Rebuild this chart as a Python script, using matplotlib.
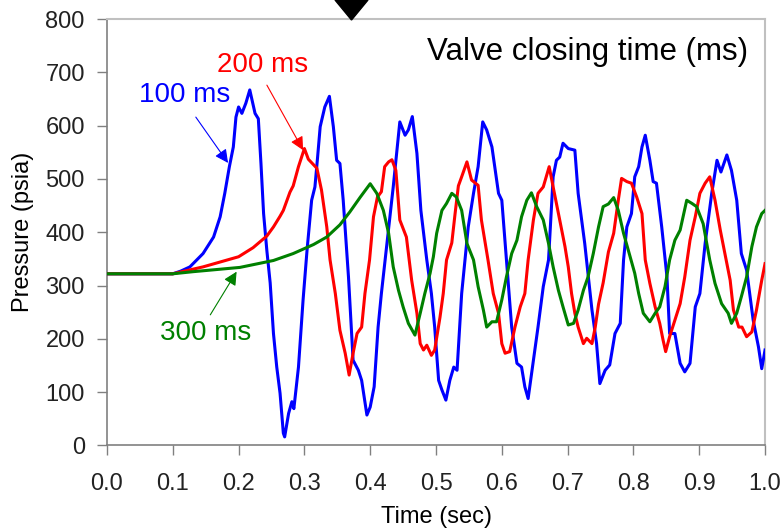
import numpy as np
import matplotlib
matplotlib.use("Agg")
import matplotlib.pyplot as plt
from matplotlib.patches import Polygon

plt.rcParams['font.family'] = ['Liberation Sans', 'DejaVu Sans']

# (time sec, pressure psia)
blue_pts = [(0.0, 322), (0.1, 322), (0.112, 327), (0.126, 335), (0.146, 360), (0.162, 391),
            (0.172, 429), (0.179, 473), (0.186, 523), (0.192, 560), (0.196, 616), (0.200, 635),
            (0.205, 623), (0.211, 642), (0.217, 667), (0.225, 623), (0.230, 613), (0.234, 529),
            (0.238, 435), (0.243, 365), (0.248, 305), (0.253, 210), (0.258, 147), (0.263, 98),
            (0.268, 23), (0.270, 16), (0.276, 60), (0.281, 82), (0.284, 69), (0.291, 147),
            (0.298, 273), (0.304, 366), (0.311, 460), (0.316, 485), (0.320, 540), (0.324, 598),
            (0.331, 635), (0.338, 655), (0.344, 598), (0.349, 535),
            (0.354, 529), (0.359, 460), (0.367, 316), (0.374, 160), (0.382, 141), (0.387, 122),
            (0.395, 57), (0.400, 72), (0.406, 110), (0.412, 222), (0.417, 285), (0.426, 385),
            (0.435, 485), (0.445, 607), (0.453, 582), (0.458, 592), (0.464, 617), (0.471, 548),
            (0.477, 441), (0.486, 348), (0.493, 285), (0.498, 222), (0.504, 122), (0.509, 104),
            (0.515, 85), (0.521, 122), (0.527, 147), (0.532, 141), (0.539, 285), (0.549, 410),
            (0.557, 473), (0.564, 523), (0.571, 607), (0.577, 592), (0.585, 560), (0.595, 473),
            (0.600, 460), (0.607, 348), (0.615, 222), (0.623, 154), (0.630, 147), (0.635, 110),
            (0.640, 88), (0.648, 160), (0.655, 222), (0.663, 298), (0.671, 348), (0.678, 504),
            (0.683, 535), (0.688, 541), (0.693, 567), (0.701, 557), (0.711, 554), (0.716, 473),
            (0.726, 379), (0.737, 254), (0.744, 191), (0.749, 116), (0.757, 141), (0.764, 151),
            (0.772, 210), (0.780, 229), (0.785, 348), (0.790, 410), (0.797, 435), (0.802, 504),
            (0.808, 523), (0.813, 560), (0.818, 582), (0.825, 535), (0.830, 495), (0.835, 492),
            (0.843, 410), (0.851, 316), (0.855, 210), (0.863, 210), (0.871, 154), (0.878, 138),
            (0.886, 154), (0.894, 260), (0.901, 285), (0.909, 379), (0.919, 473), (0.927, 535),
            (0.933, 513), (0.942, 545), (0.949, 516), (0.957, 460), (0.964, 360), (0.972, 329),
            (0.982, 235), (0.990, 185), (0.995, 144), (1.0, 179)]

red_pts = [(0.0, 322), (0.1, 322), (0.146, 335), (0.200, 354), (0.222, 371), (0.243, 393),
           (0.253, 410), (0.263, 430), (0.268, 441), (0.278, 475), (0.283, 487), (0.291, 523),
           (0.300, 557), (0.306, 537), (0.319, 520), (0.326, 479), (0.334, 410), (0.339, 348),
           (0.347, 285), (0.354, 216), (0.362, 173), (0.368, 132), (0.374, 173), (0.380, 210),
           (0.387, 222), (0.392, 285), (0.399, 348), (0.405, 429), (0.411, 466), (0.417, 476),
           (0.422, 523), (0.428, 532), (0.433, 536), (0.439, 516), (0.445, 423), (0.455, 391),
           (0.463, 310), (0.471, 248), (0.476, 191), (0.481, 179), (0.486, 188), (0.493, 169),
           (0.498, 179), (0.506, 240), (0.511, 285), (0.516, 348), (0.524, 380), (0.529, 435),
           (0.534, 487), (0.539, 504), (0.547, 532), (0.554, 498), (0.564, 488), (0.569, 423),
           (0.579, 348), (0.587, 285), (0.595, 248), (0.600, 191), (0.605, 173), (0.612, 176),
           (0.620, 222), (0.628, 260), (0.635, 285), (0.640, 348), (0.648, 423), (0.655, 473),
           (0.663, 485), (0.672, 523), (0.678, 485), (0.688, 423), (0.696, 373), (0.701, 335),
           (0.706, 285), (0.711, 248), (0.716, 222), (0.724, 191), (0.729, 201), (0.737, 191),
           (0.742, 222), (0.747, 265), (0.754, 305), (0.762, 363), (0.770, 398), (0.777, 460),
           (0.782, 501), (0.790, 495), (0.797, 492), (0.805, 466), (0.813, 435), (0.818, 348),
           (0.825, 304), (0.833, 260), (0.840, 229), (0.845, 198), (0.849, 176), (0.855, 204),
           (0.863, 235), (0.871, 266), (0.878, 316), (0.886, 385), (0.894, 429), (0.901, 473),
           (0.909, 492), (0.916, 504), (0.924, 460), (0.932, 404), (0.939, 360), (0.947, 310),
           (0.952, 254), (0.960, 222), (0.965, 222), (0.972, 204), (0.980, 213), (0.987, 254),
           (0.995, 310), (1.0, 341)]

green_pts = [(0.0, 322), (0.1, 322), (0.131, 326), (0.202, 334), (0.253, 347), (0.283, 360),
             (0.314, 377), (0.334, 391), (0.354, 414), (0.369, 438),
             (0.385, 466), (0.400, 491), (0.410, 473), (0.420, 441), (0.428, 398), (0.435, 335),
             (0.443, 291), (0.450, 260), (0.458, 229), (0.468, 207), (0.476, 248), (0.483, 285),
             (0.491, 323), (0.496, 354), (0.501, 398), (0.509, 441), (0.516, 454), (0.524, 473),
             (0.531, 466), (0.539, 441), (0.547, 379), (0.557, 348), (0.564, 298), (0.572, 254),
             (0.577, 222), (0.585, 232), (0.592, 232), (0.600, 273), (0.607, 316), (0.615, 360),
             (0.623, 385), (0.630, 429), (0.638, 460), (0.645, 474), (0.653, 448), (0.663, 423),
             (0.671, 379), (0.678, 335), (0.686, 291), (0.693, 260), (0.701, 226), (0.709, 229),
             (0.716, 254), (0.724, 291), (0.731, 316), (0.739, 360), (0.747, 410), (0.754, 448),
             (0.762, 453), (0.770, 465), (0.777, 441), (0.785, 398), (0.795, 354), (0.802, 323),
             (0.808, 285), (0.815, 248), (0.825, 232), (0.833, 248), (0.840, 260), (0.848, 298),
             (0.855, 348), (0.863, 385), (0.871, 404), (0.881, 460), (0.889, 454), (0.896, 448),
             (0.906, 416), (0.916, 348), (0.924, 304), (0.934, 266), (0.944, 248), (0.949, 229),
             (0.957, 248), (0.964, 279), (0.972, 316), (0.980, 373), (0.987, 410), (0.995, 435),
             (1.0, 441)]

xticks = np.arange(0, 1.01, 0.1)
yticks = np.arange(0, 801, 100)

fig = plt.figure(figsize=(7.82, 5.29), dpi=100)
ax = fig.add_axes([0.1368, 0.158, 0.8415, 0.806])

for pts, col in [(blue_pts, '#0000ff'), (red_pts, '#ff0000'), (green_pts, '#008000')]:
    t, p = np.array(pts).T
    ax.plot(t, p, color=col, lw=2.2, zorder=3)

ax.set_xlim(0, 1.0)
ax.set_ylim(0, 800)
ax.set_xticks(xticks)
ax.set_xticklabels(['%.1f' % v for v in xticks])
ax.set_yticks(yticks)
ax.tick_params(axis='both', direction='out', length=7, width=1, labelsize=17)
ax.tick_params(axis='x', pad=13, colors='#808080', labelcolor='#222222')
ax.tick_params(axis='y', pad=9, colors='#808080', labelcolor='#222222')
for s in ['left', 'bottom']:
    ax.spines[s].set_color('#808080')
    ax.spines[s].set_linewidth(1.2)
for s in ['top', 'right']:
    ax.spines[s].set_color('#c0c0c0')
    ax.spines[s].set_linewidth(1.5)

ax.set_xlabel('Time (sec)', fontsize=17, labelpad=8)
ax.set_ylabel('Pressure (psia)', fontsize=17, labelpad=8)

ax.text(0.974, 738, 'Valve closing time (ms)', fontsize=22.5, ha='right', va='center')

arr = dict(arrowstyle='-|>', lw=0.8, shrinkA=0, shrinkB=0, mutation_scale=20)
ax.annotate('100 ms', xy=(0.184, 530), xytext=(0.118, 657), fontsize=20, color='#0000ff',
            ha='center', va='center')
ax.annotate('', xy=(0.184, 530), xytext=(0.135, 616),
            arrowprops=dict(arr, color='#0000ff'))
ax.annotate('200 ms', xy=(0.298, 554), xytext=(0.236, 713), fontsize=20, color='#ff0000',
            ha='center', va='center')
ax.annotate('', xy=(0.298, 554), xytext=(0.243, 676),
            arrowprops=dict(arr, color='#ff0000'))
ax.annotate('300 ms', xy=(0.197, 326), xytext=(0.150, 211), fontsize=20, color='#008000',
            ha='center', va='center')
ax.annotate('', xy=(0.197, 326), xytext=(0.157, 245),
            arrowprops=dict(arr, color='#008000'))

# black pointer triangle at the very top
W, H = 782, 529
tri = Polygon([(335 / W, 1.0), (368 / W, 1.0), (351.5 / W, 1 - 20 / H)], closed=True,
              transform=fig.transFigure, color='black', clip_on=False)
fig.patches.append(tri)

fig.savefig('out.png', dpi=100)
